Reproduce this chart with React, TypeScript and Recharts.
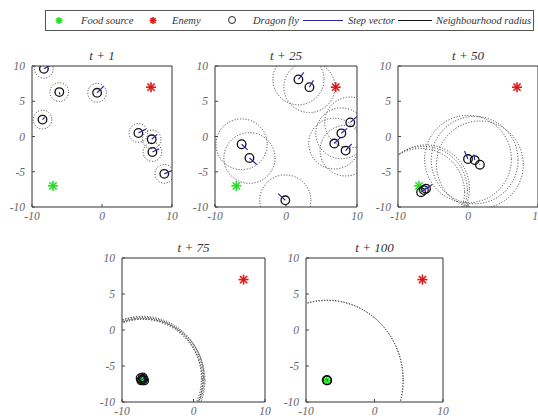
import React from "react";
import { ScatterChart, Scatter, XAxis, YAxis, ReferenceArea } from "recharts";

// fixed points of the search space
const foodSource = [{ x: -7, y: -7 }];
const enemy = [{ x: 7, y: 7 }];

const xTicks = [-10, 0, 10];
const yTicks = [-10, -5, 0, 5, 10];

// dragonflies: position + step vector, one list per snapshot
const flies1 = [
  { x: -8.3, y: 9.6, dx: 0.85, dy: 0.47 },
  { x: -6.1, y: 6.3, dx: 0.1, dy: -0.35 },
  { x: -0.7, y: 6.2, dx: 0.95, dy: 0.95 },
  { x: -8.5, y: 2.4, dx: 0.3, dy: 0.3 },
  { x: 5.2, y: 0.5, dx: 1.05, dy: 0.55 },
  { x: 7.1, y: -0.4, dx: 0.8, dy: 0.7 },
  { x: 7.2, y: -2.2, dx: 0.95, dy: 0.45 },
  { x: 8.9, y: -5.3, dx: 1.1, dy: 0.47 },
  { x: -5.6, y: 11.4, dx: 0, dy: 0 },
  { x: 5.9, y: 11.4, dx: 0, dy: 0 },
];
const flies25 = [
  { x: 1.75, y: 8.1, dx: 0.76, dy: 0.98 },
  { x: 3.3, y: 7.0, dx: 0.57, dy: 0.98 },
  { x: 9.05, y: 2.0, dx: 0.95, dy: 0.84 },
  { x: 7.8, y: 0.45, dx: 0.8, dy: 0.7 },
  { x: 6.8, y: -1.0, dx: 0.85, dy: 0.84 },
  { x: 8.4, y: -2.0, dx: 0.85, dy: 0.94 },
  { x: -6.25, y: -1.1, dx: 0.85, dy: -0.8 },
  { x: -5.15, y: -3.05, dx: 1.04, dy: -0.94 },
  { x: -0.1, y: -9.05, dx: -1.0, dy: 0.94 },
];
const flies50 = [
  { x: -6.7, y: -7.9, dx: 0.7, dy: 0.6 },
  { x: -6.3, y: -7.6, dx: 0.8, dy: 0.5 },
  { x: -6.0, y: -7.4, dx: 0.9, dy: 0.6 },
  { x: 0.0, y: -3.2, dx: -0.5, dy: 1.15 },
  { x: 0.95, y: -3.35, dx: -0.1, dy: 0.8 },
  { x: 1.7, y: -4.0, dx: -0.05, dy: 0.1 },
];
const flies75 = [
  { x: -7.4, y: -6.7, dx: 0.1, dy: 0.1 },
  { x: -7.2, y: -6.9, dx: 0.1, dy: 0.1 },
  { x: -7.0, y: -6.8, dx: 0.1, dy: 0.1 },
  { x: -7.3, y: -7.0, dx: 0.1, dy: 0.1 },
  { x: -7.1, y: -6.6, dx: 0.1, dy: 0.1 },
  { x: -6.9, y: -7.0, dx: 0.1, dy: 0.1 },
];
const flies100 = [
  { x: -6.9, y: -7.0, dx: 0.1, dy: 0.05 },
  { x: -6.95, y: -6.95, dx: 0.1, dy: 0.05 },
];

// neighbourhood radius per snapshot
const radius1 = 1.33;
const radius25 = 3.6;
const radius50 = 6.2;
const radius75 = 8.5;
const radius100 = 11.1;

const serif = "Liberation Serif, Times New Roman, serif";
const tickStyle = {
  fill: "#666",
  fontSize: 11.5,
  fontStyle: "italic",
  fontFamily: serif,
  style: { fontFamily: serif, fontStyle: "italic" },
};
const stepColor = "#2b2ba8";

type Panel = {
  title: string;
  flies: { x: number; y: number; dx: number; dy: number }[];
  radius: number;
  left: number;
  top: number;
  w: number;
  h: number;
};

const panels: Panel[] = [
  { title: "t + 1", flies: flies1, radius: radius1, left: 32, top: 66, w: 140, h: 141 },
  { title: "t + 25", flies: flies25, radius: radius25, left: 215, top: 66, w: 142, h: 141 },
  { title: "t + 50", flies: flies50, radius: radius50, left: 398, top: 66, w: 140, h: 141 },
  { title: "t + 75", flies: flies75, radius: radius75, left: 122, top: 258, w: 143, h: 144 },
  { title: "t + 100", flies: flies100, radius: radius100, left: 306, top: 258, w: 137, h: 144 },
];

const Star = ({ cx, cy, color, s = 5 }: any) => {
  const d = s * 0.72;
  return (
    <g stroke={color} strokeWidth={1.6}>
      <line x1={cx - s} y1={cy} x2={cx + s} y2={cy} />
      <line x1={cx} y1={cy - s} x2={cx} y2={cy + s} />
      <line x1={cx - d} y1={cy - d} x2={cx + d} y2={cy + d} />
      <line x1={cx - d} y1={cy + d} x2={cx + d} y2={cy - d} />
    </g>
  );
};

function SnapshotChart({ p }: { p: Panel }) {
  const kx = p.w / 20;
  const ky = p.h / 20;
  const halo = (s: any) => (
    <ellipse
      cx={s.cx}
      cy={s.cy}
      rx={p.radius * kx}
      ry={p.radius * ky}
      fill="none"
      stroke="#333"
      strokeWidth={1}
      strokeDasharray="1 1.8"
    />
  );
  const ring = (s: any) => (
    <circle cx={s.cx} cy={s.cy} r={4.3} fill="none" stroke="#111" strokeWidth={1.3} />
  );
  const step = (s: any) => (
    <line
      x1={s.cx}
      y1={s.cy}
      x2={s.cx + s.payload.dx * kx}
      y2={s.cy - s.payload.dy * ky}
      stroke={stepColor}
      strokeWidth={1.2}
    />
  );
  return (
    <div style={{ position: "absolute", left: p.left - 40, top: p.top - 30 }}>
      <ScatterChart width={p.w + 50} height={p.h + 50} margin={{ top: 30, right: 10, bottom: 0, left: 0 }}>
        <XAxis
          type="number"
          dataKey="x"
          domain={[-10, 10]}
          ticks={xTicks}
          allowDataOverflow
          axisLine={false}
          tickLine={{ stroke: "#444" }}
          tickSize={-3}
          tickMargin={8}
          height={20}
          tick={tickStyle}
          interval={0}
        />
        <YAxis
          type="number"
          dataKey="y"
          domain={[-10, 10]}
          ticks={yTicks}
          allowDataOverflow
          axisLine={false}
          tickLine={{ stroke: "#444" }}
          tickSize={-3}
          tickMargin={10}
          width={40}
          tick={tickStyle}
          interval={0}
        />
        <ReferenceArea
          x1={-10}
          x2={10}
          y1={-10}
          y2={10}
          fill="none"
          fillOpacity={0}
          stroke="#333"
          strokeWidth={1}
          label={{
            value: p.title,
            position: "top",
            offset: 6,
            fill: "#333",
            fontSize: 13,
            fontStyle: "italic",
            fontFamily: serif,
            style: { fontFamily: serif, fontStyle: "italic", fontWeight: 400 },
          }}
        />
        <Scatter data={p.flies} shape={halo} isAnimationActive={false} />
        <Scatter data={foodSource} shape={(s: any) => <Star cx={s.cx} cy={s.cy} color="#22dd22" />} isAnimationActive={false} />
        <Scatter data={enemy} shape={(s: any) => <Star cx={s.cx} cy={s.cy} color="#e01515" />} isAnimationActive={false} />
        <Scatter data={p.flies} shape={ring} isAnimationActive={false} />
        <Scatter data={p.flies} shape={step} isAnimationActive={false} />
      </ScatterChart>
    </div>
  );
}

function LegendBox() {
  const cy = 20.5;
  const txt = {
    fontSize: 10.5,
    fill: "#333",
    style: { fontFamily: serif, fontStyle: "italic" as const },
  };
  return (
    <svg width={538} height={40} style={{ position: "absolute", left: 0, top: 0 }}>
      <rect x={45.5} y={10.5} width={488} height={20} fill="#fff" stroke="#555" />
      <Star cx={59} cy={cy} color="#22dd22" s={3.5} />
      <text x={81} y={cy + 3.5} {...txt}>Food source</text>
      <Star cx={153} cy={cy} color="#e01515" s={3.5} />
      <text x={172} y={cy + 3.5} {...txt}>Enemy</text>
      <circle cx={232} cy={cy - 0.5} r={3.5} fill="none" stroke="#222" strokeWidth={1} />
      <text x={253} y={cy + 3.5} {...txt}>Dragon fly</text>
      <line x1={303} y1={cy} x2={343} y2={cy} stroke={stepColor} strokeWidth={1} />
      <text x={348} y={cy + 3.5} {...txt}>Step vector</text>
      <line x1={398} y1={cy} x2={432} y2={cy} stroke="#111" strokeWidth={1} />
      <text x={436} y={cy + 3.5} {...txt}>Neighbourhood radius</text>
    </svg>
  );
}

export default function App() {
  return (
    <div
      style={{
        position: "absolute",
        left: 0,
        top: 0,
        width: 538,
        height: 419,
        overflow: "hidden",
        background: "#fff",
      }}
    >
      <LegendBox />
      {panels.map((p) => (
        <SnapshotChart key={p.title} p={p} />
      ))}
    </div>
  );
}
